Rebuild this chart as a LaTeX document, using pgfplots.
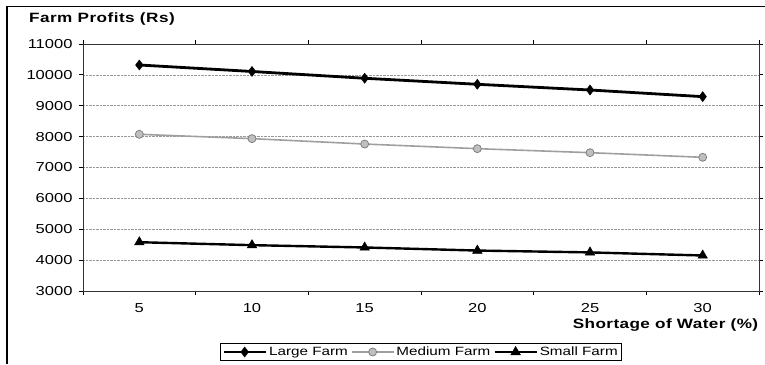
\documentclass[border=0pt]{standalone}
\usepackage{fontspec}
\setmainfont{Liberation Sans}[FakeStretch=1.27]
\newfontfamily\ytitlefont{Liberation Sans}[FakeStretch=1.27, LetterSpace=3.5, BoldFont={Liberation Sans Bold}]
\newfontfamily\xtitlefont{Liberation Sans}[FakeStretch=1.27, LetterSpace=3, BoldFont={Liberation Sans Bold}]
\usepackage{pgfplots}
\pgfplotsset{compat=1.18}
\pgfplotstableread{
x large medium small
5  10320 8075 4580
10 10110 7935 4485
15 9890  7760 4410
20 9695  7610 4310
25 9510  7480 4250
30 9295  7330 4150
}\farmdata
\begin{document}
\begin{tikzpicture}[x=1pt,y=1pt]
\useasboundingbox (0,0) rectangle (765,364);
\draw[line width=1.3pt] (7,0) -- (7,357.5) -- (765,357.5);
\begin{axis}[
  at={(83pt,73pt)}, anchor=south west,
  scale only axis, width=676pt, height=247pt,
  xmin=2.5, xmax=32.5, ymin=3000, ymax=11000,
  xtick={2.5,7.5,...,32.5},
  xticklabels={5,10,15,20,25,30},
  x tick label as interval,
  ytick={3000,4000,...,11000},
  scaled y ticks=false,
  tick align=outside,
  major tick length=4pt,
  tick style={black, line width=0.8pt},
  /pgf/number format/assume math mode=true,
  /pgf/number format/1000 sep={},
  ticklabel style={font=\fontsize{13}{15}\selectfont},
  xticklabel style={yshift=-5pt},
  yticklabel style={xshift=-3pt},
  ymajorgrids,
  grid style={densely dotted, gray!80, line width=0.6pt},
  axis line style={black!80, line width=0.8pt},
  xlabel={\xtitlefont\bfseries Shortage of Water (\%)},
  xlabel style={at={(axis description cs:1.004,-0.138)}, anchor=east, font=\fontsize{13.5}{15}\selectfont},
  ylabel={\ytitlefont\bfseries Farm Profits (Rs)},
  ylabel style={at={(axis description cs:-0.085,1.101)}, anchor=west, rotate=-90, font=\fontsize{13.5}{15}\selectfont},
  legend columns=3,
  legend style={at={(axis description cs:0.5,-0.247)}, anchor=center, draw=black, line width=0.8pt,
    font=\fontsize{12}{14}\selectfont, inner sep=1.5pt,
    /tikz/every even column/.append style={column sep=1pt}},
  legend image code/.code={%
    \draw[mark repeat=2, mark phase=2, #1] plot coordinates {(0pt,0pt) (21pt,0pt) (42pt,0pt)};},
]
\addplot[black, line width=2.8pt, mark=diamond*, mark size=5pt, mark options={line width=0.5pt}] table[x=x,y=large] {\farmdata};
\addlegendentry{Large Farm}
\addplot[gray!75, line width=1.6pt, mark=*, mark size=4pt, mark options={fill=gray!50, draw=gray, line width=0.8pt}] table[x=x,y=medium] {\farmdata};
\addlegendentry{Medium Farm}
\addplot[black, line width=2.4pt, mark=triangle*, mark size=5.5pt, mark options={line width=0.5pt}] table[x=x,y=small] {\farmdata};
\addlegendentry{Small Farm}
\end{axis}
\end{tikzpicture}
\end{document}
